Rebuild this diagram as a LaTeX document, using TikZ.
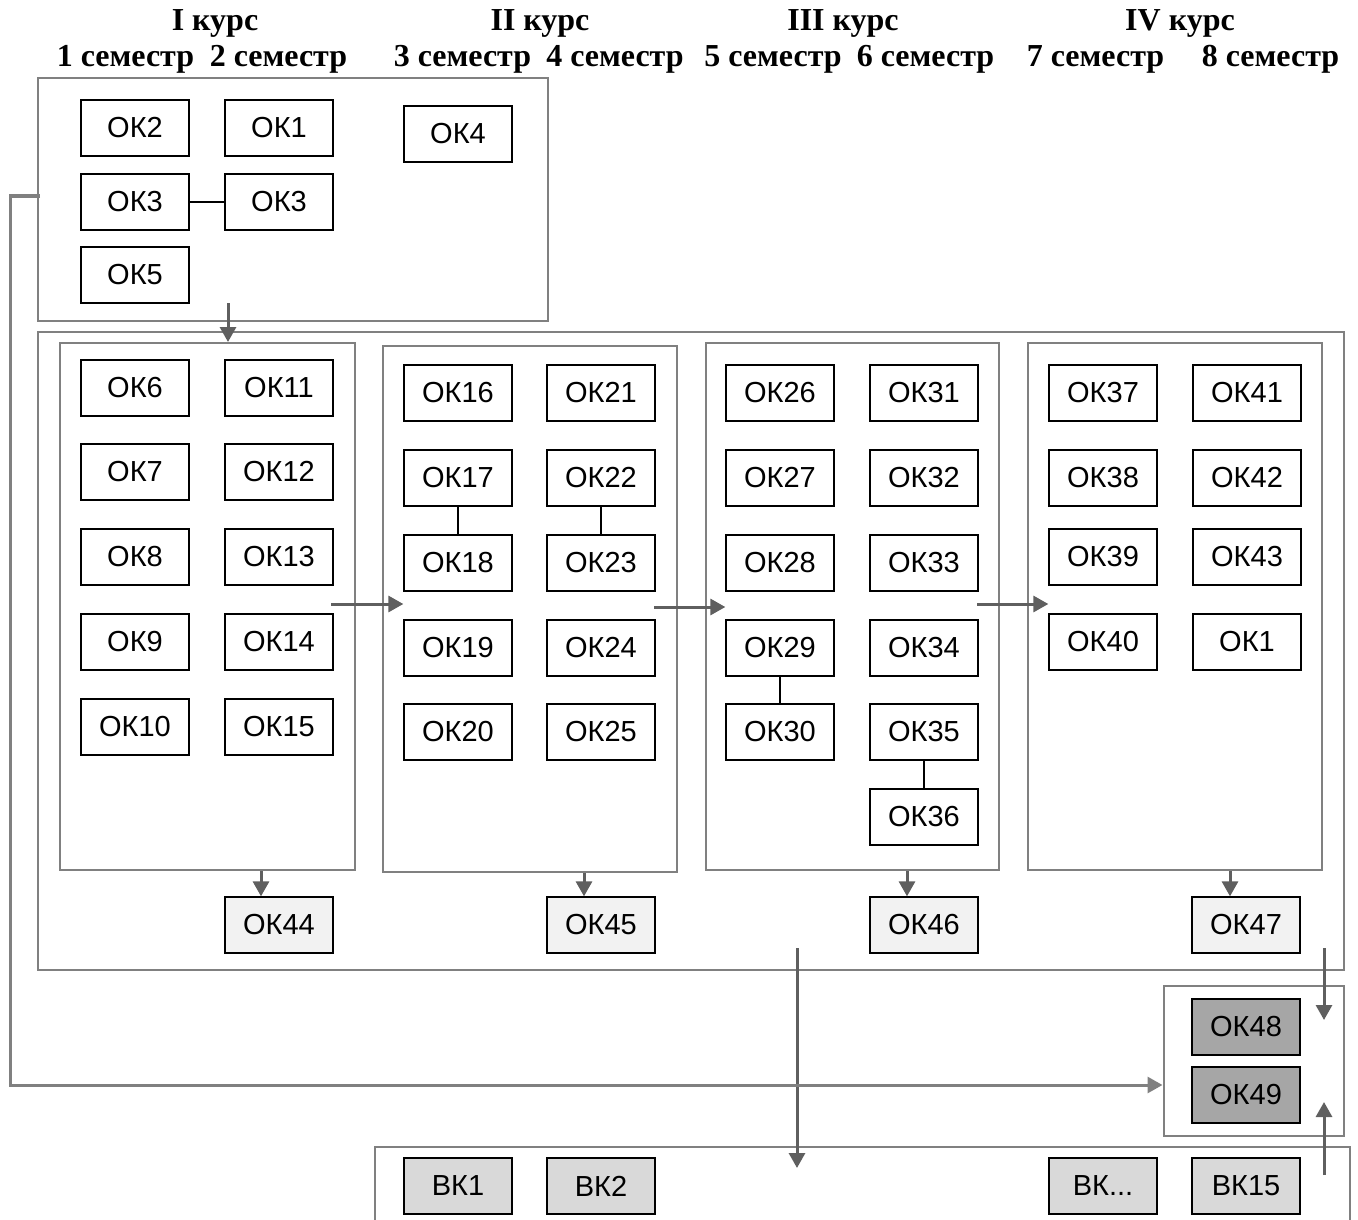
\documentclass[tikz,border=0pt]{standalone}
\usepackage{fontspec}
\setmainfont{Liberation Serif}
\newfontfamily\boxfont{Liberation Sans}
\usetikzlibrary{arrows.meta}
\definecolor{contc}{HTML}{808080}
\definecolor{arrc}{HTML}{5F5F5F}
\definecolor{fillA}{HTML}{F2F2F2}
\definecolor{fillB}{HTML}{A6A6A6}
\definecolor{fillC}{HTML}{D9D9D9}
\begin{document}
\begin{tikzpicture}[x=1pt,y=-1pt,
 okbox/.style={draw=black,line width=1.3pt,minimum width=108pt,minimum height=56pt,inner sep=0pt,font=\boxfont\fontsize{29}{32}\selectfont},
 cont/.style={draw=contc,line width=2pt,inner sep=0pt},
 arr/.style={draw=arrc,line width=3pt,-{Triangle[length=15pt,width=16pt]}},
 link/.style={draw=black,line width=1.3pt},
 head/.style={font=\bfseries\fontsize{32}{36}\selectfont,anchor=base,inner sep=0pt}]
\useasboundingbox (0,0) rectangle (1358,1220);
% headers
\node[head] (k1) at (215,31) {I курс};
\node[head] (k2) at (540,31) {II курс};
\node[head] (k3) at (843,31) {III курс};
\node[head] (k4) at (1180,31) {IV курс};
\node[head] (t1) at (125.5,67) {1 семестр};
\node[head] (t2) at (278.5,67) {2 семестр};
\node[head] (t3) at (462.5,67) {3 семестр};
\node[head] (t4) at (615,67) {4 семестр};
\node[head] (t5) at (773,67) {5 семестр};
\node[head] (t6) at (925.5,67) {6 семестр};
\node[head] (t7) at (1095.5,67) {7 семестр};
\node[head] (t8) at (1270.5,67) {8 семестр};
% containers
\node[cont,minimum width=510pt,minimum height=243pt] (top) at (293,199.5) {};
\node[cont,minimum width=1306pt,minimum height=638pt] (big) at (691,651) {};
\node[cont,minimum width=295pt,minimum height=527pt] (p1) at (207.5,606.5) {};
\node[cont,minimum width=294pt,minimum height=526pt] (p2) at (530,609) {};
\node[cont,minimum width=293pt,minimum height=527pt] (p3) at (852.5,606.5) {};
\node[cont,minimum width=294pt,minimum height=527pt] (p4) at (1175,606.5) {};
\node[cont,minimum width=180pt,minimum height=150pt] (fin) at (1253.5,1060.5) {};
\draw[cont] (375,1224) |- (1350,1147) -- (1350,1224);
% top box
\node[okbox] (ok2) at (135,128) {ОК2};
\node[okbox] (ok1) at (279,128) {ОК1};
\node[okbox] (ok4) at (458,134) {ОК4};
\node[okbox] (ok3a) at (135,202) {ОК3};
\node[okbox] (ok3b) at (279,202) {ОК3};
\node[okbox] (ok5) at (135,275) {ОК5};
% panel 1
\node[okbox] (ok6) at (135,388) {ОК6};
\node[okbox] (ok7) at (135,472) {ОК7};
\node[okbox] (ok8) at (135,557) {ОК8};
\node[okbox] (ok9) at (135,642) {ОК9};
\node[okbox] (ok10) at (135,727) {ОК10};
\node[okbox] (ok11) at (279,388) {ОК11};
\node[okbox] (ok12) at (279,472) {ОК12};
\node[okbox] (ok13) at (279,557) {ОК13};
\node[okbox] (ok14) at (279,642) {ОК14};
\node[okbox] (ok15) at (279,727) {ОК15};
% panel 2
\node[okbox] (ok16) at (458,393) {ОК16};
\node[okbox] (ok17) at (458,478) {ОК17};
\node[okbox] (ok18) at (458,563) {ОК18};
\node[okbox] (ok19) at (458,648) {ОК19};
\node[okbox] (ok20) at (458,732) {ОК20};
\node[okbox] (ok21) at (601,393) {ОК21};
\node[okbox] (ok22) at (601,478) {ОК22};
\node[okbox] (ok23) at (601,563) {ОК23};
\node[okbox] (ok24) at (601,648) {ОК24};
\node[okbox] (ok25) at (601,732) {ОК25};
% panel 3
\node[okbox] (ok26) at (780,393) {ОК26};
\node[okbox] (ok27) at (780,478) {ОК27};
\node[okbox] (ok28) at (780,563) {ОК28};
\node[okbox] (ok29) at (780,648) {ОК29};
\node[okbox] (ok30) at (780,732) {ОК30};
\node[okbox] (ok31) at (924,393) {ОК31};
\node[okbox] (ok32) at (924,478) {ОК32};
\node[okbox] (ok33) at (924,563) {ОК33};
\node[okbox] (ok34) at (924,648) {ОК34};
\node[okbox] (ok35) at (924,732) {ОК35};
\node[okbox] (ok36) at (924,817) {ОК36};
% panel 4
\node[okbox] (ok37) at (1103,393) {ОК37};
\node[okbox] (ok38) at (1103,478) {ОК38};
\node[okbox] (ok39) at (1103,557) {ОК39};
\node[okbox] (ok40) at (1103,642) {ОК40};
\node[okbox] (ok41) at (1247,393) {ОК41};
\node[okbox] (ok42) at (1247,478) {ОК42};
\node[okbox] (ok43) at (1247,557) {ОК43};
\node[okbox] (ok1b) at (1247,642) {ОК1};
% bottom row
\node[okbox,fill=fillA] (ok44) at (279,925) {ОК44};
\node[okbox,fill=fillA] (ok45) at (601,925) {ОК45};
\node[okbox,fill=fillA] (ok46) at (924,925) {ОК46};
\node[okbox,fill=fillA] (ok47) at (1246,925) {ОК47};
\node[okbox,fill=fillB] (ok48) at (1246,1027) {ОК48};
\node[okbox,fill=fillB] (ok49) at (1246,1095) {ОК49};
\node[okbox,fill=fillC] (bk1) at (458,1186) {ВК1};
\node[okbox,fill=fillC] (bk2) at (601,1186) {ВК2};
\node[okbox,fill=fillC] (bkd) at (1103,1186) {ВК...};
\node[okbox,fill=fillC] (bk15) at (1246,1186) {ВК15};
% links
\draw[link] (ok3a) -- (ok3b);
\draw[link] (ok17) -- (ok18);
\draw[link] (ok22) -- (ok23);
\draw[link] (ok29) -- (ok30);
\draw[link] (ok35) -- (ok36);
% arrows
\coordinate (a0) at (228,303);
\draw[arr] (a0) -- (a0 |- p1.north);
\coordinate (h1) at (331,604);
\coordinate (h2) at (654,607);
\coordinate (h3) at (977,604);
\draw[arr] (h1) -- (h1 -| ok18.west);
\draw[arr] (h2) -- (h2 -| ok29.west);
\draw[arr] (h3) -- (h3 -| ok39.west);
\coordinate (d1) at (261,0);
\coordinate (d2) at (584,0);
\coordinate (d3) at (907,0);
\coordinate (d4) at (1230,0);
\draw[arr] (p1.south -| d1) -- (d1 |- ok44.north);
\draw[arr] (p2.south -| d2) -- (d2 |- ok45.north);
\draw[arr] (p3.south -| d3) -- (d3 |- ok46.north);
\draw[arr] (p4.south -| d4) -- (d4 |- ok47.north);
\coordinate (v1) at (797,948);
\coordinate (v1e) at (797,1168);
\draw[arr] (v1) -- (v1e);
\coordinate (r1) at (1324,948);
\coordinate (r1e) at (1324,1020);
\draw[arr] (r1) -- (r1e);
\coordinate (r2) at (1324,1175);
\coordinate (r2e) at (1324,1102);
\draw[arr] (r2) -- (r2e);
\coordinate (l1) at (40,196);
\coordinate (lc) at (10,1085);
\draw[arr,draw=contc] (l1) -| (lc) -- (lc -| fin.west);
\end{tikzpicture}
\end{document}
